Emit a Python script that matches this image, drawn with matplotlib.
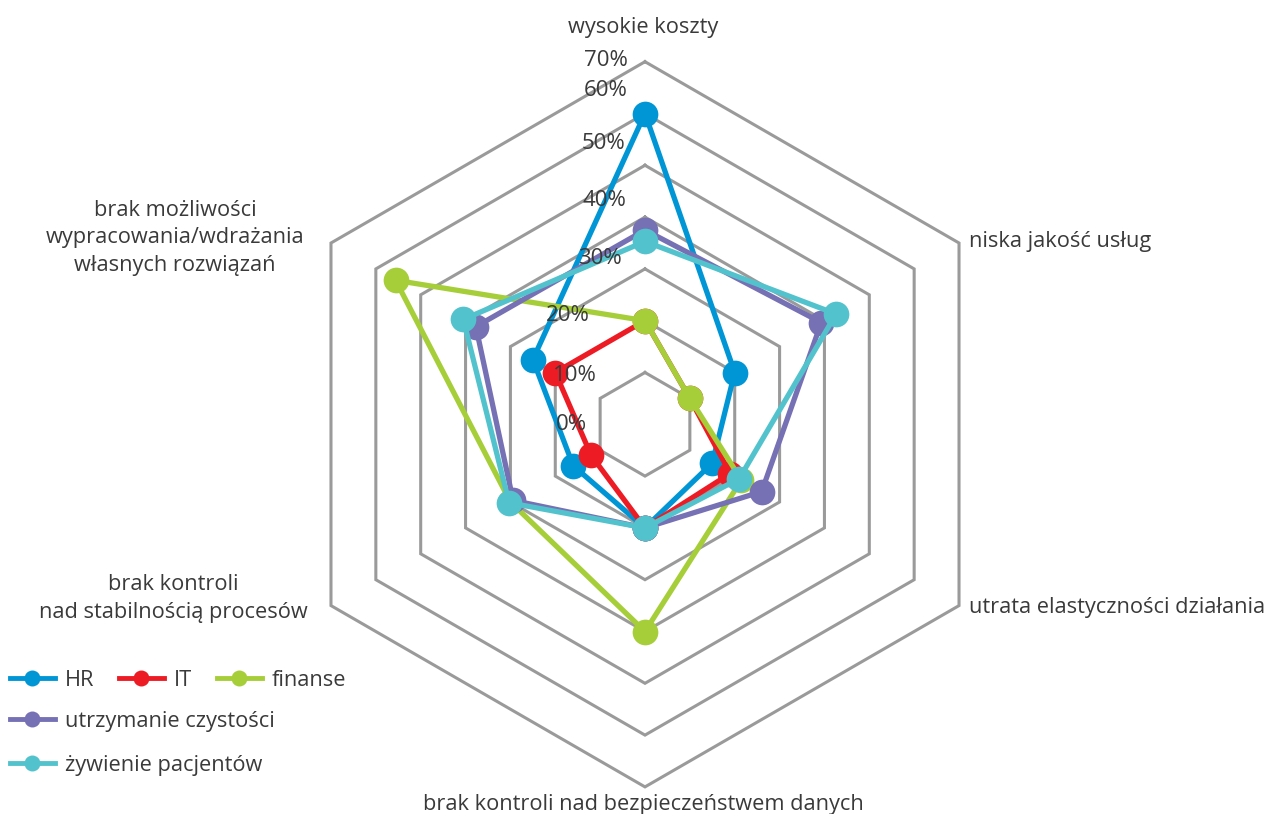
import numpy as np
import matplotlib
matplotlib.use("Agg")
import matplotlib.pyplot as plt
from matplotlib.lines import Line2D

# ---------------- data ----------------
categories = [
    "wysokie koszty",
    "niska jakość usług",
    "utrata elastyczności działania",
    "brak kontroli nad bezpieczeństwem danych",
    "brak kontroli\nnad stabilnością procesów",
    "brak możliwości\nwypracowania/wdrażania\nwłasnych rozwiązań",
]
series_names = ["HR", "IT", "finanse", "utrzymanie czystości", "żywienie pacjentów"]
hr = [60, 20, 15, 20, 16, 25]
it = [20, 10, 19, 20, 12, 20]
finanse = [20, 10, 21.5, 40, 30, 55.6]
utrzymanie = [37.5, 39.3, 26, 20, 29.4, 37.7]
zywienie = [35.3, 42.6, 21, 20, 30.3, 40.5]
ring_values = [10, 20, 30, 40, 50, 60, 70]
tick_labels = ["0%", "10%", "20%", "30%", "40%", "50%", "60%", "70%"]

# ---------------- style ----------------
colors = ["#0096D6", "#ED1C24", "#A6CE39", "#7670B4", "#52C3CD"]
text_color = "#3a3a3a"
grid_color = "#9a9a9a"
FONT = ["Open Sans", "DejaVu Sans"]
plt.rcParams["font.family"] = FONT

W, H = 1271, 814
fig = plt.figure(figsize=(W / 100, H / 100), dpi=100)
ax = fig.add_axes([0, 0, 1, 1])
ax.set_axis_off()

# pixel layout: centre at (645, 424.3), 5.18 px per percent point
cx, cy, s = 645.0, 424.3, 5.18
ax.set_xlim(-cx / s, (W - cx) / s)
ax.set_ylim(-(H - cy) / s, cy / s)

n = len(categories)
angles = np.deg2rad(90 - 360.0 * np.arange(n) / n)

def xy(vals):
    v = np.asarray(vals, dtype=float)
    x = v * np.cos(angles)
    y = v * np.sin(angles)
    return np.append(x, x[0]), np.append(y, y[0])

# grid hexagons
for r in ring_values:
    gx, gy = xy([r] * n)
    ax.plot(gx, gy, color=grid_color, lw=2.2, zorder=1, solid_joinstyle="miter")

# series
all_series = [hr, it, finanse, utrzymanie, zywienie]
for i, (vals, col, name) in enumerate(zip(all_series, colors, series_names)):
    px, py = xy(vals)
    ax.plot(px, py, color=col, lw=3.8, zorder=3 + i, solid_joinstyle="round")
    ax.plot(px[:-1], py[:-1], "o", color=col, ms=18.5, zorder=3 + i,
            markeredgewidth=0)

# radial tick labels (placed as in the reference, left of the vertical axis)
tick_pos_r = [0, 9.4, 21.0, 32.1, 43.2, 54.2, 64.5, 70.3]
tick_right_x = [-11.2, -9.3, -10.6, -4.4, -3.5, -3.7, -3.3, -3.3]
for lab, rr, xr in zip(tick_labels, tick_pos_r, tick_right_x):
    ax.text(xr, rr, lab, ha="right", va="center", fontsize=16,
            color=text_color, zorder=20)

# category labels
fs = 15.7
ax.text(-0.4, 76.6, categories[0], ha="center", va="center", fontsize=fs, color=text_color)
ax.text(62.6, 35.2, categories[1], ha="left", va="center", fontsize=fs, color=text_color)
ax.text(62.6, -35.4, categories[2], ha="left", va="center", fontsize=fs, color=text_color)
ax.text(-0.4, -73.4, categories[3], ha="center", va="center", fontsize=fs, color=text_color)
ax.text(-91.1, -33.6, categories[4], ha="center", va="center", fontsize=fs,
        color=text_color, linespacing=1.42)
ax.text(-90.7, 36.0, categories[5], ha="center", va="center", fontsize=fs,
        color=text_color, linespacing=1.42)

# legend
handles = [Line2D([0], [0], color=c, lw=3.5, marker="o", ms=11.5, markeredgewidth=0)
           for c in colors]
common = dict(frameon=False, fontsize=fs, handlelength=2.05, handletextpad=0.45,
              borderaxespad=0, borderpad=0, labelcolor=text_color, loc="center left")
leg1 = ax.legend(handles[:3], series_names[:3], ncol=3, columnspacing=1.15,
                 bbox_to_anchor=(10 / W, 1 - 680 / H), **common)
ax.add_artist(leg1)
leg2 = ax.legend(handles[3:4], series_names[3:4],
                 bbox_to_anchor=(10 / W, 1 - 721 / H), **common)
ax.add_artist(leg2)
leg3 = ax.legend(handles[4:5], series_names[4:5],
                 bbox_to_anchor=(10 / W, 1 - 765 / H), **common)

fig.savefig("out.png", dpi=100)
